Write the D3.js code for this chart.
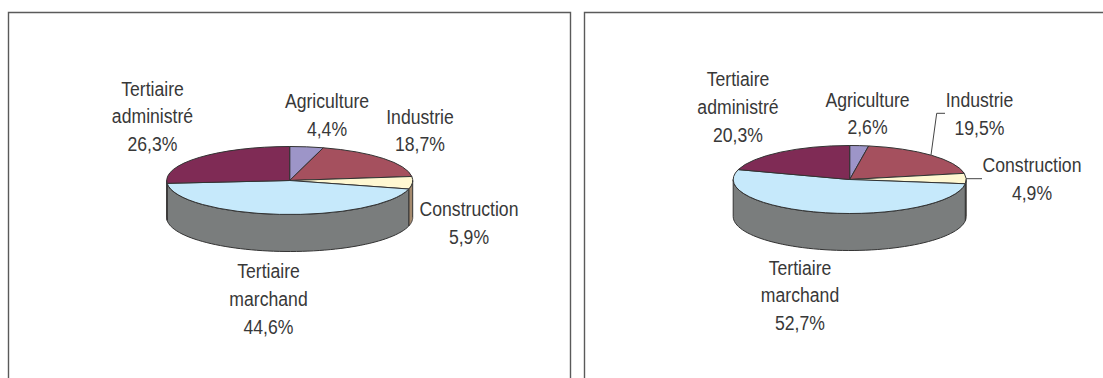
<!DOCTYPE html>
<html lang="fr">
<head>
<meta charset="utf-8">
<script src="https://cdn.jsdelivr.net/npm/d3@7/dist/d3.min.js"></script>
<style>
html,body{margin:0;padding:0;background:#fff}
svg{display:block}
text{font-family:"Liberation Sans",Arial,sans-serif;font-size:21px;fill:#383838;text-anchor:middle}
</style>
</head>
<body>
<svg id="chart" width="1103" height="378"></svg>
<script>
// Sector shares of each pie, clockwise from twelve o'clock
const sectors = ["Agriculture", "Industrie", "Construction", "Tertiaire marchand", "Tertiaire administré"];
const sharesLeft = [4.4, 18.7, 5.9, 44.6, 26.3];
const sharesRight = [2.6, 19.5, 4.9, 52.7, 20.3];
const labelLeft = ["4,4%", "18,7%", "5,9%", "44,6%", "26,3%"];
const labelRight = ["2,6%", "19,5%", "4,9%", "52,7%", "20,3%"];
const topColours = ["#9d95c8", "#a5505e", "#fff8d2", "#c6e9fb", "#7f2b55"];
const sideColours = ["#6f6a8c", "#8a4a55", "#a58a6e", "#7a7d7d", "#5e2a45"];
const textSqueeze = 0.84;
const lineGap = 27.8;

const svg = d3.select("#chart");

// Panel outlines: each one is open at the bottom
const frame = (d) => svg.append("path").attr("d", d).attr("fill", "none")
  .attr("stroke", "#5a5a5a").attr("stroke-width", 1.4);
frame("M8.5,378V12.5H570.5V378");
frame("M584.5,378V12.5H1103");

function drawPie(shares, labels, geo) {
  const { cx, cy, rx, ry, depth, layout, leaders } = geo;
  const squash = d3.scaleLinear().domain([0, rx]).range([0, ry]);
  const pieGen = d3.pie().sort(null).value(d => d).startAngle(0).endAngle(2 * Math.PI);
  const arcs = pieGen(shares);
  const arcGen = d3.arc().innerRadius(0).outerRadius(rx);
  const px = a => cx + rx * Math.sin(a);
  const py = a => cy - squash(rx) * Math.cos(a);

  const g = svg.append("g");

  // Rim: only the part of each slice between 3 and 9 o'clock faces the viewer
  arcs.forEach((d, i) => {
    const a0 = Math.max(d.startAngle, Math.PI / 2);
    const a1 = Math.min(d.endAngle, 3 * Math.PI / 2);
    if (a1 <= a0) return;
    const samples = d3.range(0, 61).map(k => a0 + (a1 - a0) * k / 60);
    const upper = samples.map(a => [px(a), py(a)]);
    const lower = samples.slice().reverse().map(a => [px(a), py(a) + depth]);
    g.append("path")
      .attr("d", d3.line()(upper.concat(lower)) + "Z")
      .attr("fill", sideColours[i])
      .attr("stroke", "#333").attr("stroke-width", 1).attr("stroke-linejoin", "round");
  });

  // Top face: a flat pie flattened into an ellipse
  g.append("g")
    .attr("transform", `translate(${cx},${cy}) scale(1,${ry / rx})`)
    .selectAll("path").data(arcs).join("path")
    .attr("d", arcGen)
    .attr("fill", (d, i) => topColours[i])
    .attr("stroke", "#333").attr("stroke-width", 1)
    .attr("vector-effect", "non-scaling-stroke")
    .attr("stroke-linejoin", "round");

  // Leader lines
  leaders.forEach(points => {
    g.append("path").attr("d", d3.line()(points)).attr("fill", "none")
      .attr("stroke", "#444").attr("stroke-width", 1);
  });

  // Category labels in a narrowed face, with the share on the last line
  sectors.forEach((name, i) => {
    const words = i >= 3 ? name.split(" ") : [name];
    const lines = words.concat(labels[i]);
    const t = svg.append("text")
      .attr("transform", `translate(${layout[i][0]},${layout[i][1]}) scale(${textSqueeze},1)`);
    lines.forEach((line, k) => {
      t.append("tspan").attr("x", 0).attr("y", k * lineGap).text(line);
    });
  });
}

drawPie(sharesLeft, labelLeft, {
  cx: 289.7, cy: 180.5, rx: 123, ry: 34, depth: 37,
  layout: [[327, 108], [420, 123.5], [469, 216], [268.5, 278], [152.5, 95.5]],
  leaders: []
});
drawPie(sharesRight, labelRight, {
  cx: 849.7, cy: 179.5, rx: 116.5, ry: 34, depth: 37,
  layout: [[867.5, 106.5], [979.5, 107], [1032, 172], [800, 274.5], [738, 86]],
  leaders: [[[931, 155], [936.7, 113.3], [945, 113.3]], [[966, 178.7], [982, 178.7]]]
});
</script>
</body>
</html>
